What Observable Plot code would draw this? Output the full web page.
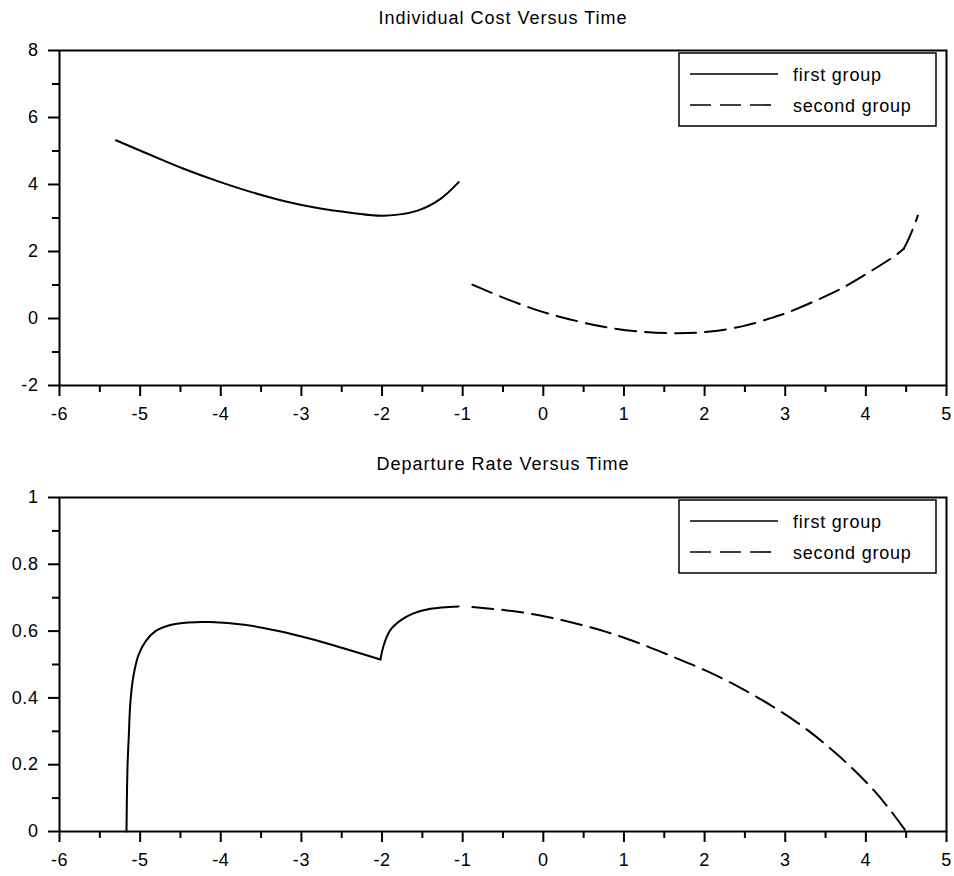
<!DOCTYPE html>
<html>
<head>
<meta charset="utf-8">
<script src="https://cdn.jsdelivr.net/npm/d3@7"></script>
<script src="https://cdn.jsdelivr.net/npm/@observablehq/plot@0.6"></script>
<style>
  html, body { margin: 0; padding: 0; background: #fff; }
  #chart svg { display: block; }
</style>
</head>
<body>
<div id="chart"></div>
<script>
// ---- data ----
const costTime1 = [-5.30, -4.87, -4.46, -4.04, -3.63, -3.22, -2.80, -2.39, -1.98, -1.56, -1.275, -1.05];
const cost1     = [5.32, 4.88, 4.47, 4.10, 3.78, 3.51, 3.30, 3.16, 3.07, 3.22, 3.57, 4.07];

const costTime2 = [-0.88, -0.41, 0.0, 0.42, 0.83, 1.25, 1.66, 2.07, 2.49, 2.82, 3.02, 3.375, 3.73, 4.06, 4.37, 4.47, 4.55, 4.645];
const cost2     = [1.01, 0.54, 0.19, -0.08, -0.28, -0.40, -0.44, -0.39, -0.22, 0.01, 0.17, 0.53, 0.94, 1.41, 1.89, 2.08, 2.48, 3.07];
const cost2Kink = 4.47;

const rateTime1 = [-5.169, -5.157, -5.14, -5.12, -5.08, -5.017, -4.93, -4.81, -4.645, -4.40, -4.13, -3.71, -3.30, -2.89, -2.47, -2.02, -1.98, -1.90, -1.77, -1.61, -1.40, -1.05];
const rate1     = [0, 0.19, 0.29, 0.39, 0.47, 0.53, 0.57, 0.60, 0.617, 0.626, 0.627, 0.619, 0.601, 0.577, 0.548, 0.515, 0.557, 0.602, 0.632, 0.653, 0.667, 0.674];
const rate1Cusp = -2.02;

const rateTime2 = [-0.88, -0.45, -0.035, 0.38, 0.79, 1.205, 1.62, 2.03, 2.445, 2.86, 3.27, 3.685, 4.10, 4.305, 4.50];
const rate2     = [0.672, 0.662, 0.647, 0.624, 0.597, 0.562, 0.522, 0.48, 0.43, 0.372, 0.305, 0.222, 0.123, 0.063, 0];

const xMajor = [-6, -5, -4, -3, -2, -1, 0, 1, 2, 3, 4, 5];
const xMinor = [-5.5, -4.5, -3.5, -2.5, -1.5, -0.5, 0.5, 1.5, 2.5, 3.5, 4.5];
const costMajor = [-2, 0, 2, 4, 6, 8];
const costMinor = [-1, 1, 3, 5, 7];
const rateMajor = [0, 0.2, 0.4, 0.6, 0.8, 1];
const rateMinor = [0.1, 0.3, 0.5, 0.7, 0.9];

const seriesNames = ["first group", "second group"];
const titles = ["Individual Cost Versus Time", "Departure Rate Versus Time"];

const FONT = "'Liberation Sans', Arial, sans-serif";
const DASH = "21,9";

// rows; a series with a corner (cusp/kink) is split into two pieces that share the corner point
function toRows(xs, ys, corner) {
  const rows = [];
  xs.forEach((x, i) => {
    if (corner !== undefined && x === corner) {
      rows.push({x, y: ys[i], part: 0});
      rows.push({x, y: ys[i], part: 1});
    } else {
      rows.push({x, y: ys[i], part: corner !== undefined && x > corner ? 1 : 0});
    }
  });
  return rows;
}

function panel({title, s1, s2, yDomain, yMajor, yMinor, marginTop, marginBottom, titleDy}) {
  const fmt = d => String(d);
  const svg = Plot.plot({
    width: 954,
    height: 438,
    marginLeft: 59,
    marginRight: 8,
    marginTop,
    marginBottom,
    style: {fontFamily: FONT, fontSize: "18px", color: "#000", background: "#fff", letterSpacing: "0.6px"},
    x: {domain: [-6, 5]},
    y: {domain: yDomain},
    marks: [
      Plot.line(s1, {x: "x", y: "y", z: "part", stroke: "#000", strokeWidth: 2, curve: "catmull-rom"}),
      Plot.line(s2, {x: "x", y: "y", z: "part", stroke: "#000", strokeWidth: 2, curve: "catmull-rom", strokeDasharray: DASH}),
      Plot.axisX({ticks: xMinor, tickSize: 7, text: null, strokeWidth: 2, label: null}),
      Plot.axisX({ticks: xMajor, tickSize: 11, tickPadding: 11, tickFormat: fmt, strokeWidth: 2, fontSize: 18, label: null}),
      Plot.axisY({ticks: yMinor, tickSize: 7, text: null, strokeWidth: 2, label: null}),
      Plot.axisY({ticks: yMajor, tickSize: 11, tickPadding: 10, tickFormat: fmt, strokeWidth: 2, fontSize: 18, label: null}),
      Plot.frame({stroke: "#000", strokeWidth: 2}),
      Plot.text([title], {text: d => d, frameAnchor: "top", lineAnchor: "middle", dy: titleDy, fontSize: 18, fill: "#000"})
    ]
  });
  // title letter spacing
  d3.select(svg).selectAll("text").filter(function() { return this.textContent === title; }).attr("letter-spacing", "1px");
  // legend box (annotation), placed relative to the frame's top-right corner
  const right = 954 - 8, top = marginTop;
  const g = d3.select(svg).append("g").attr("font-family", FONT).attr("font-size", 18)
    .attr("letter-spacing", "0.8px").attr("text-anchor", "start");
  g.append("rect").attr("x", right - 267).attr("y", top + 3).attr("width", 257).attr("height", 73)
    .attr("fill", "#fff").attr("stroke", "#000").attr("stroke-width", 1.5);
  seriesNames.forEach((name, i) => {
    const yy = top + 24 + i * 31;
    g.append("line").attr("x1", right - 256).attr("x2", right - 168).attr("y1", yy).attr("y2", yy)
      .attr("stroke", "#000").attr("stroke-width", 1.6).attr("stroke-dasharray", i === 1 ? DASH : null);
    g.append("text").attr("x", right - 153).attr("y", yy + 6.5).attr("fill", "#000")
      .attr("text-anchor", "start").text(name);
  });
  return svg;
}

const root = document.getElementById("chart");
root.appendChild(panel({
  title: titles[0], s1: toRows(costTime1, cost1), s2: toRows(costTime2, cost2, cost2Kink),
  yDomain: [-2, 8], yMajor: costMajor, yMinor: costMinor,
  marginTop: 50, marginBottom: 53, titleDy: -32
}));
root.appendChild(panel({
  title: titles[1], s1: toRows(rateTime1, rate1, rate1Cusp), s2: toRows(rateTime2, rate2),
  yDomain: [0, 1], yMajor: rateMajor, yMinor: rateMinor,
  marginTop: 59, marginBottom: 45, titleDy: -33
}));
</script>
</body>
</html>
